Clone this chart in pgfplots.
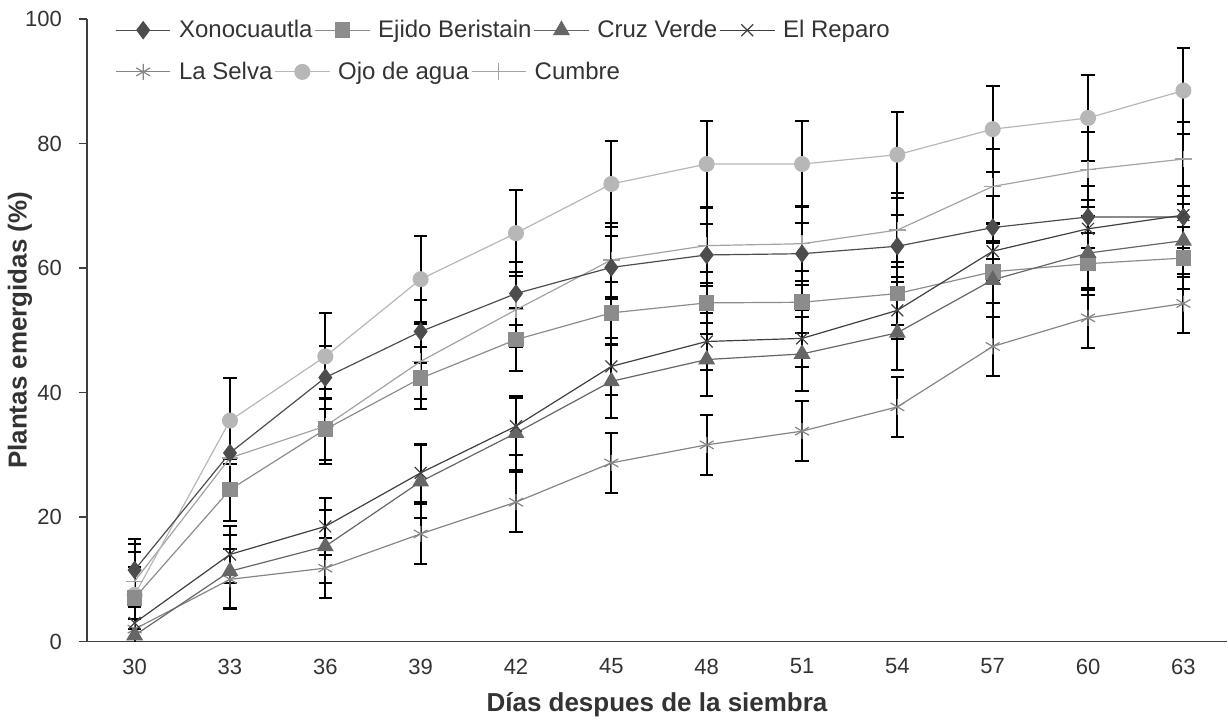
\documentclass[border=0pt]{standalone}
\usepackage{fontspec}
\setmainfont{Liberation Sans}
\usepackage{pgfplots}
\pgfplotsset{compat=1.18}
\definecolor{cXono}{HTML}{4D4D4D}
\definecolor{cEjido}{HTML}{8C8C8C}
\definecolor{cCruz}{HTML}{666666}
\definecolor{cReparo}{HTML}{404040}
\definecolor{cSelva}{HTML}{858585}
\definecolor{cOjo}{HTML}{B7B7B7}
\definecolor{cCumbre}{HTML}{A3A3A3}
\definecolor{txt}{HTML}{333333}

% x = category index (0 = 30 dias ... 11 = 63 dias), y, error
\pgfplotstableread{
x y e
0 11.5 5
1 30.3 5
2 42.4 5
3 49.8 5
4 55.9 5
5 60.1 5
6 62.1 5
7 62.3 5
8 63.5 5
9 66.5 5
10 68.2 5
11 68.2 5
}\xono
\pgfplotstableread{
x y e
0 7.0 5
1 24.4 5
2 34.1 5
3 42.3 5
4 48.5 5
5 52.8 5
6 54.4 5
7 54.5 5
8 55.9 5
9 59.4 5
10 60.7 5
11 61.6 5
}\ejido
\pgfplotstableread{
x y e
0 1.0 4.5
1 11.3 5.9
2 15.3 5.9
3 25.7 5.9
4 33.5 5.9
5 41.8 5.9
6 45.3 5.9
7 46.2 5.9
8 49.6 5.9
9 58.1 5.9
10 62.4 5.9
11 64.4 5.9
}\cruz
\pgfplotstableread{
x y e
0 3.0 4.6
1 14.0 4.6
2 18.5 4.6
3 27.1 4.6
4 34.6 4.6
5 44.2 4.6
6 48.2 4.6
7 48.7 4.6
8 53.2 4.6
9 62.7 4.6
10 66.3 4.6
11 68.5 4.6
}\reparo
\pgfplotstableread{
x y e
0 2.0 4.8
1 10.0 4.8
2 11.8 4.8
3 17.3 4.8
4 22.4 4.8
5 28.7 4.8
6 31.6 4.8
7 33.8 4.8
8 37.7 4.8
9 47.4 4.8
10 52.0 4.8
11 54.3 4.8
}\selva
\pgfplotstableread{
x y e
0 7.5 6.9
1 35.5 6.9
2 45.8 6.9
3 58.2 6.9
4 65.6 6.9
5 73.5 6.9
6 76.7 6.9
7 76.7 6.9
8 78.2 6.9
9 82.3 6.9
10 84.1 6.9
11 88.5 6.9
}\ojo
\pgfplotstableread{
x y e
0 9.7 6
1 29.5 6
2 34.6 6
3 45.0 6
4 53.3 6
5 61.3 6
6 63.6 6
7 63.9 6
8 66.1 6
9 73.1 6
10 75.8 6
11 77.5 6
}\cumbre

\pgfplotsset{
  base/.style={
    scale only axis, width=570.5pt, height=311.5pt,
    xmin=-0.5, xmax=11.46, ymin=0, ymax=100,
  },
  errs/.style={forget plot, draw=none, mark=none,
    error bars/.cd, y dir=both, y explicit,
    error bar style={draw=black, line width=1pt},
    error mark options={draw=black, line width=1pt, mark size=3.4pt, rotate=90}},
  ser/.style={color=#1, line width=0.6pt, mark options={solid, fill=#1, draw=#1}},
  leg/.style={
    legend style={draw=none, fill=none, font=\fontsize{12}{14}\selectfont\color{txt},
      legend columns=-1, column sep=3pt, inner sep=0pt,
      nodes={inner xsep=1pt},
      /tikz/every even column/.append style={column sep=0pt}},
    legend image code/.code={
      \draw[mark repeat=2, mark phase=2] plot coordinates {(0cm,0cm) (0.48cm,0cm) (0.96cm,0cm)};},
  },
}

\begin{document}
\begin{tikzpicture}
\begin{axis}[base, leg,
  axis x line*=bottom, axis y line*=left,
  axis line style={color=cReparo, line width=0.75pt},
  tick style={color=cReparo, line width=0.75pt},
  tick align=outside,
  ytick={0,20,...,100}, major tick length=4pt,
  xtick={0,...,11},
  xticklabels={30,33,36,39,42,45,48,51,54,57,60,63},
  x tick style={draw=none},
  extra x ticks={-0.5,0.5,...,10.5}, extra x tick labels={},
  extra x tick style={tick style={draw=cReparo, line width=0.75pt}, major tick length=5pt},
  ticklabel style={font=\fontsize{11}{13}\selectfont, color=txt},
  /pgf/number format/assume math mode=true,
  xticklabel style={yshift=-1pt},
  yticklabel style={xshift=-5pt},
  xlabel={\textbf{Días despues de la siembra}},
  ylabel={\textbf{Plantas emergidas (\%)}},
  label style={font=\fontsize{13}{15}\selectfont, color=txt},
  xlabel style={at={(axis description cs:0.5,-0.101)}, anchor=center},
  ylabel style={at={(axis description cs:-0.0587,0.5)}, anchor=center},
  legend style={at={(0.0245,0.982)}, anchor=west},
]
% error bars first, under the lines and markers
\addplot[errs] table[x=x, y=y, y error=e] {\xono};
\addplot[errs] table[x=x, y=y, y error=e] {\ejido};
\addplot[errs] table[x=x, y=y, y error=e] {\cruz};
\addplot[errs] table[x=x, y=y, y error=e] {\reparo};
\addplot[errs] table[x=x, y=y, y error=e] {\selva};
\addplot[errs] table[x=x, y=y, y error=e] {\ojo};
\addplot[errs] table[x=x, y=y, y error=e] {\cumbre};

\addplot[ser=cSelva, mark=asterisk, mark size=4pt, forget plot] table[x=x, y=y] {\selva};
\addplot[ser=cCumbre, mark=+, mark size=4.2pt, forget plot] table[x=x, y=y] {\cumbre};
\addplot[ser=cOjo, mark=*, mark size=3.7pt, forget plot] table[x=x, y=y] {\ojo};
\addplot[ser=cXono, mark=diamond*, mark size=4.2pt] table[x=x, y=y] {\xono};
\addlegendentry{Xonocuautla}
\addplot[ser=cEjido, mark=square*, mark size=3.6pt] table[x=x, y=y] {\ejido};
\addlegendentry{Ejido Beristain}
\addplot[ser=cCruz, mark=triangle*, mark size=4.3pt] table[x=x, y=y] {\cruz};
\addlegendentry{Cruz Verde}
\addplot[ser=cReparo, mark=x, mark size=4.2pt] table[x=x, y=y] {\reparo};
\addlegendentry{El Reparo}
\end{axis}

% second legend row
\begin{axis}[base, leg, hide axis,
  legend style={at={(0.0245,0.915)}, anchor=west}]
\addlegendimage{ser=cSelva, mark=asterisk, mark size=4pt}
\addlegendentry{La Selva}
\addlegendimage{ser=cOjo, mark=*, mark size=3.7pt}
\addlegendentry{Ojo de agua}
\addlegendimage{ser=cCumbre, mark=+, mark size=4.2pt}
\addlegendentry{Cumbre}
\end{axis}
\path ([shift={(-43.5pt,-42pt)}]current axis.south west) rectangle ([shift={(0pt,9.5pt)}]current axis.north east);
\end{tikzpicture}
\end{document}
